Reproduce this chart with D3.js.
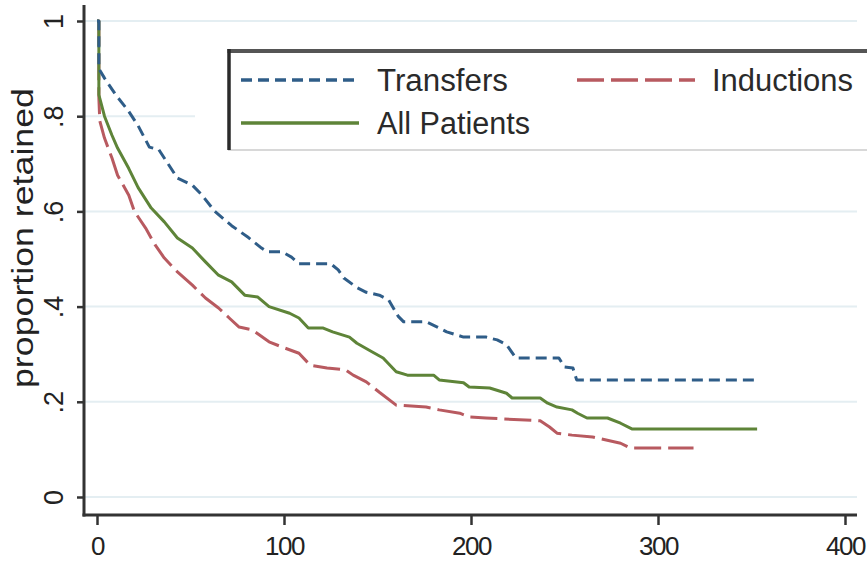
<!DOCTYPE html>
<html>
<head>
<meta charset="utf-8">
<script src="https://cdn.jsdelivr.net/npm/d3@7/dist/d3.min.js"></script>
<style>
  html, body { margin: 0; padding: 0; background: #ffffff; }
  svg { display: block; font-family: "Liberation Sans", Arial, Helvetica, sans-serif; }
</style>
</head>
<body>
<svg id="chart" width="867" height="561"></svg>
<script>
// ---- data: vertices (time in days, proportion retained) ----
const seriesNames = ["Transfers", "Inductions", "All Patients"];

const transfers = [
  [0,1],[1,1],[1,0.90],[4,0.88],[10,0.845],[17,0.81],[22,0.78],[28,0.735],[33,0.73],
  [38,0.70],[43,0.67],[51,0.655],[56,0.635],[63,0.60],[72,0.57],[81,0.545],[88,0.523],
  [91,0.515],[99,0.515],[104,0.504],[108,0.49],[125,0.49],[129,0.477],[132,0.46],
  [139,0.44],[144,0.43],[151,0.424],[156,0.414],[161,0.38],[164,0.368],[176,0.368],
  [182,0.357],[187,0.347],[196,0.336],[208,0.336],[214,0.33],[219,0.32],[224,0.292],
  [247,0.292],[250,0.273],[254.5,0.271],[256.5,0.246],[353,0.246]
];

const inductions = [
  [0,1],[1,1],[1,0.838],[1.5,0.79],[4,0.754],[8,0.712],[11,0.676],[17,0.634],[20,0.60],
  [26,0.565],[31,0.53],[36,0.502],[43,0.473],[51,0.445],[58,0.418],[65,0.397],[71,0.375],
  [76,0.357],[83,0.351],[92,0.326],[99,0.315],[108,0.302],[114,0.277],[123,0.271],
  [133,0.267],[137,0.256],[144,0.242],[151,0.22],[160,0.193],[176,0.189],[183,0.183],
  [194,0.176],[199,0.168],[208,0.166],[237,0.16],[242,0.147],[246,0.134],[254,0.13],
  [265,0.126],[280,0.113],[285,0.103],[319,0.103]
];

const allPatients = [
  [0,1],[1,1],[1,0.845],[4,0.80],[8,0.76],[11,0.733],[17,0.69],[22,0.65],[29,0.607],
  [36,0.578],[43,0.544],[51,0.523],[58,0.494],[65,0.466],[72,0.452],[79,0.424],[86,0.42],
  [92,0.40],[103,0.386],[108,0.376],[113,0.355],[121,0.355],[126,0.347],[135,0.336],
  [139,0.323],[147,0.305],[153,0.292],[160,0.263],[166,0.256],[180,0.256],[183,0.246],
  [196,0.24],[199,0.231],[210,0.229],[219,0.218],[222,0.208],[237,0.208],[241,0.197],
  [246,0.189],[254,0.183],[257,0.176],[262,0.166],[273,0.166],[280,0.155],[286,0.143],
  [353,0.143]
];

const xTicks = [0, 100, 200, 300, 400];
const xTickLabels = ["0", "100", "200", "300", "400"];
const yTicks = [0, 0.2, 0.4, 0.6, 0.8, 1];
const yTickLabels = ["0", ".2", ".4", ".6", ".8", "1"];
const yTitle = "proportion retained";

// ---- layout ----
const frame = { left: 84, right: 857, top: 5, bottom: 515 };
const x = d3.scaleLinear().domain([0, 400]).range([97, 845]);
const y = d3.scaleLinear().domain([0, 1]).range([497, 21]);

const svg = d3.select("#chart");

// gridlines
svg.append("g").selectAll("line").data(yTicks).join("line")
  .attr("x1", frame.left + 1).attr("x2", frame.right)
  .attr("y1", d => y(d)).attr("y2", d => y(d))
  .attr("stroke", "#e4eef2").attr("stroke-width", 2);

// white area round the legend (hides gridline)
svg.append("rect").attr("x", 195).attr("y", 36).attr("width", 700).attr("height", 124)
  .attr("fill", "#ffffff");

// lines
const styles = {
  "Transfers":    { data: transfers,   color: "#2f5d88", dash: "11,6" },
  "Inductions":   { data: inductions,  color: "#b85a60", dash: "27,7" },
  "All Patients": { data: allPatients, color: "#5e8438", dash: null }
};
const line = d3.line().x(d => x(d[0])).y(d => y(d[1])).curve(d3.curveLinear);
["Inductions", "All Patients", "Transfers"].forEach(name => {
  const s = styles[name];
  svg.append("path").datum(s.data)
    .attr("d", line)
    .attr("fill", "none")
    .attr("stroke", s.color)
    .attr("stroke-width", 3)
    .attr("stroke-linejoin", "round")
    .attr("stroke-dasharray", s.dash);
});

// axes
const axisColor = "#333333";
const gx = svg.append("g").attr("transform", `translate(0,${frame.bottom})`)
  .call(d3.axisBottom(x).tickValues(xTicks).tickFormat((d, i) => xTickLabels[i]).tickSize(10).tickSizeOuter(0));
gx.select(".domain").remove();
gx.selectAll(".tick line").attr("stroke", axisColor).attr("stroke-width", 2.5);
gx.selectAll(".tick text")
  .attr("y", 40).attr("dy", 0)
  .attr("fill", "#222").attr("font-size", 26).attr("letter-spacing", -1.5);

const gy = svg.append("g").attr("transform", `translate(${frame.left},0)`)
  .call(d3.axisLeft(y).tickValues(yTicks).tickFormat((d, i) => yTickLabels[i]).tickSize(7).tickSizeOuter(0));
gy.select(".domain").remove();
gy.selectAll(".tick line").attr("stroke", axisColor).attr("stroke-width", 2.5);
gy.selectAll(".tick text")
  .attr("x", 0).attr("y", 0).attr("dy", 0)
  .attr("text-anchor", "middle")
  .attr("transform", "translate(-21,0) rotate(-90)")
  .attr("fill", "#222").attr("font-size", 27);

// axis lines
svg.append("line").attr("x1", frame.left).attr("x2", frame.left)
  .attr("y1", frame.top).attr("y2", frame.bottom + 1.5)
  .attr("stroke", axisColor).attr("stroke-width", 3);
svg.append("line").attr("x1", frame.left - 1.5).attr("x2", frame.right)
  .attr("y1", frame.bottom).attr("y2", frame.bottom)
  .attr("stroke", axisColor).attr("stroke-width", 3);

// y title
svg.append("text")
  .attr("transform", `translate(33,${238}) rotate(-90)`)
  .attr("text-anchor", "middle")
  .attr("font-size", 30)
  .attr("fill", "#222")
  .attr("textLength", 300).attr("lengthAdjust", "spacingAndGlyphs")
  .text(yTitle);

// legend
const lg = svg.append("g");
lg.append("rect").attr("x", 229).attr("y", 50).attr("width", 700).attr("height", 100)
  .attr("fill", "#ffffff").attr("stroke", "#d8d8d8").attr("stroke-width", 2);
lg.append("line").attr("x1", 227.5).attr("x2", 867).attr("y1", 51).attr("y2", 51)
  .attr("stroke", "#555555").attr("stroke-width", 4);
lg.append("line").attr("x1", 229).attr("x2", 229).attr("y1", 49).attr("y2", 150)
  .attr("stroke", "#2a2a2a").attr("stroke-width", 3.5);

const legendItems = [
  { name: "Transfers",    kx: 241, ky: 80,  tx: 377, tw: 131 },
  { name: "Inductions",   kx: 577, ky: 80,  tx: 712, tw: 141 },
  { name: "All Patients", kx: 241, ky: 123, tx: 377, tw: 153 }
];
legendItems.forEach(it => {
  const s = styles[it.name];
  lg.append("line").attr("x1", it.kx).attr("x2", it.kx + 118)
    .attr("y1", it.ky).attr("y2", it.ky)
    .attr("stroke", s.color).attr("stroke-width", 3.5)
    .attr("stroke-dasharray", s.dash);
  lg.append("text").attr("x", it.tx).attr("y", it.ky + 11)
    .attr("font-size", 31).attr("fill", "#2a2a2a")
    .attr("textLength", it.tw).attr("lengthAdjust", "spacingAndGlyphs")
    .text(it.name);
});
</script>
</body>
</html>
